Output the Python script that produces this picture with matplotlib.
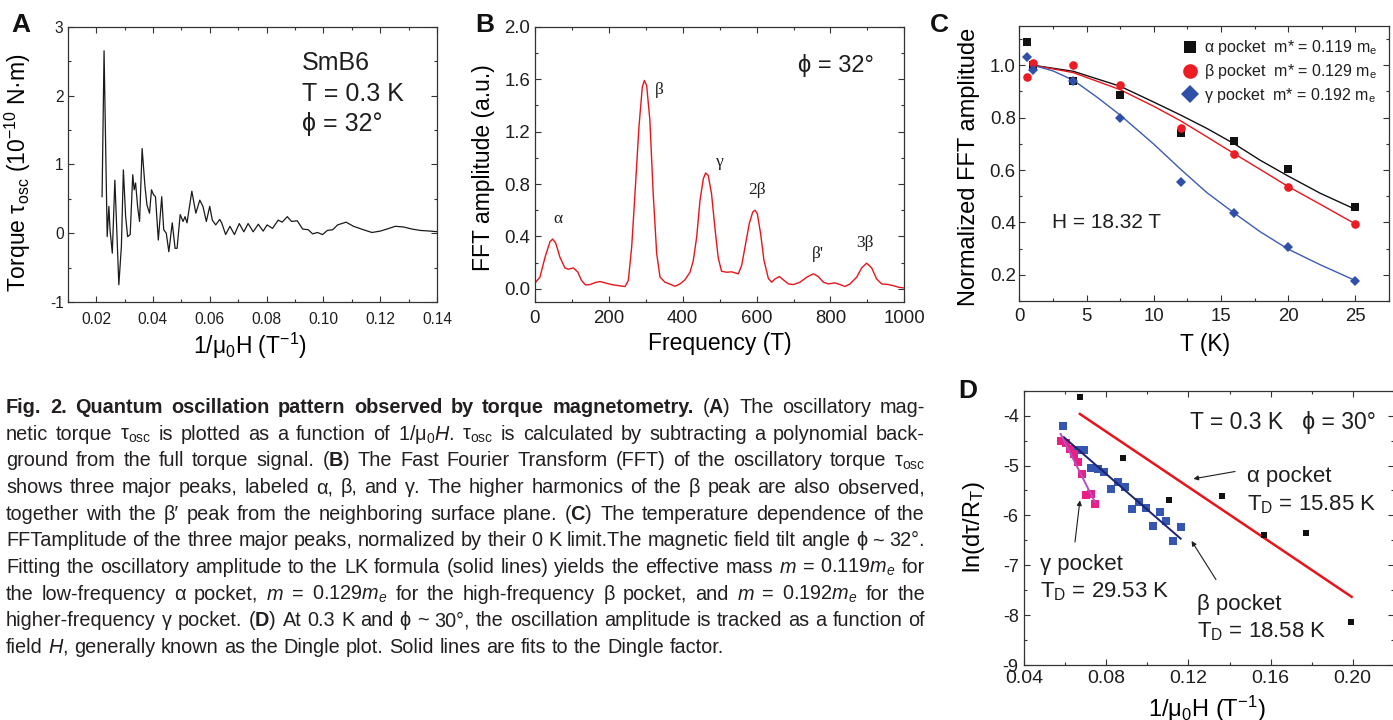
import matplotlib
matplotlib.use('Agg')
import matplotlib.pyplot as plt
from matplotlib import font_manager
from matplotlib.ticker import MultipleLocator, FixedLocator, FormatStrFormatter

# ---------------- data ----------------
# (A) oscillatory torque vs 1/mu0H
A_x = [0.0221, 0.0228, 0.0235, 0.0239, 0.0245, 0.0249, 0.0257, 0.0266, 0.0271, 0.0280,
       0.0289, 0.0296, 0.0304, 0.0311, 0.0320, 0.0329, 0.0334, 0.0339, 0.0346, 0.0353,
       0.0362, 0.0372, 0.0379, 0.0388, 0.0395, 0.0402, 0.0409, 0.0419, 0.0431, 0.0438,
       0.0447, 0.0456, 0.0468, 0.0478, 0.0485, 0.0496, 0.0506, 0.0513, 0.0520, 0.0537,
       0.0551, 0.0565, 0.0576, 0.0588, 0.0600, 0.0609, 0.0621, 0.0635, 0.0642, 0.0656,
       0.0671, 0.0687, 0.0704, 0.0720, 0.0735, 0.0753, 0.0771, 0.0788, 0.0802, 0.0821,
       0.0841, 0.0855, 0.0873, 0.0888, 0.0908, 0.0927, 0.0947, 0.0962, 0.0979, 0.0997,
       0.1014, 0.1033, 0.1050, 0.1080, 0.1106, 0.1141, 0.1171, 0.1200, 0.1224, 0.1253,
       0.1282, 0.1312, 0.1341, 0.1377, 0.1405]
A_torque = [0.53, 2.65, 0.92, -0.05, 0.39, 0.05, -0.29, 0.77, 0.24, -0.75,
            -0.19, 0.92, 0.24, -0.05, -0.02, 0.85, 0.63, 0.73, 0.39, 0.17,
            1.23, 0.68, 0.41, 0.29, 0.63, 0.56, 0.53, -0.10, 0.53, 0.05,
            0.00, -0.27, 0.15, -0.22, -0.22, 0.27, 0.17, 0.24, 0.15, 0.61,
            0.29, 0.48, 0.39, 0.17, 0.39, 0.19, 0.12, 0.20, 0.15, -0.02,
            0.10, -0.02, 0.14, 0.02, 0.14, 0.02, 0.13, 0.03, 0.12, 0.07,
            0.19, 0.16, 0.24, 0.17, 0.18, 0.06, 0.05, -0.01, 0.01, -0.02,
            0.04, 0.05, 0.12, 0.16, 0.10, 0.05, 0.01, 0.03, 0.06, 0.10,
            0.09, 0.06, 0.04, 0.03, 0.02]

# (B) FFT spectrum
B_freq = [0, 13.5, 27, 40.6, 47.8, 56, 67.7, 81, 90, 103.8, 115.5, 126, 137, 149, 162.5,
          176, 189.5, 207.6, 225.6, 243.7, 252.7, 261.8, 270.8, 281.6, 290.6, 296, 302.4,
          311, 320, 329.5, 338.5, 352, 365.5, 379, 392.6, 406, 419.7, 428.7, 437.8, 446.8,
          455.8, 462, 469, 478, 487, 496, 505, 519, 532.5, 550.6, 559.7, 568.7, 580.4,
          589.5, 595.8, 602, 611, 620, 632, 641, 650, 661.7, 672.5, 686, 699.6, 717.6,
          735.7, 753.7, 767, 780.8, 794, 812, 826, 839.5, 853, 871, 884.6, 898, 911.7,
          925, 938.8, 956.8, 970, 984, 997]
B_amp = [0.045, 0.09, 0.24, 0.36, 0.38, 0.35, 0.24, 0.16, 0.15, 0.16, 0.13, 0.064, 0.03,
         0.033, 0.048, 0.056, 0.046, 0.033, 0.025, 0.018, 0.064, 0.32, 0.73, 1.24, 1.54,
         1.59, 1.55, 1.29, 0.73, 0.27, 0.09, 0.051, 0.036, 0.02, 0.038, 0.069, 0.127,
         0.217, 0.395, 0.675, 0.84, 0.884, 0.866, 0.726, 0.47, 0.24, 0.135, 0.127, 0.13,
         0.115, 0.18, 0.32, 0.50, 0.586, 0.60, 0.573, 0.42, 0.217, 0.079, 0.051, 0.076,
         0.094, 0.069, 0.038, 0.033, 0.051, 0.089, 0.115, 0.094, 0.051, 0.038, 0.046,
         0.033, 0.018, 0.038, 0.089, 0.16, 0.196, 0.16, 0.076, 0.038, 0.033, 0.025,
         0.013, 0.008]
B_labels = ['α', 'β', 'γ', '2β', "β'", '3β']
B_label_freq = [63, 337, 501, 600, 767, 894]
B_label_amp = [0.535, 1.52, 0.97, 0.757, 0.268, 0.35]

# (C) normalized FFT amplitude vs T
C_T_alpha = [0.55, 1.0, 4.0, 7.5, 12, 16, 20, 25]
C_alpha = [1.088, 1.0, 0.94, 0.886, 0.743, 0.712, 0.604, 0.46]
C_T = [0.55, 1.0, 4.0, 7.5, 12, 16, 20, 25]
C_beta = [0.956, 1.009, 1.003, 0.926, 0.761, 0.662, 0.534, 0.393]
C_gamma = [1.032, 0.983, 0.94, 0.80, 0.556, 0.435, 0.308, 0.178]
C_fit_T = [1.04, 4.02, 7.5, 9.98, 12, 13.95, 16, 17.9, 20, 22.4, 25]
C_fit_alpha = [1.0, 0.977, 0.92, 0.86, 0.81, 0.759, 0.70, 0.638, 0.577, 0.511, 0.45]
C_fit_beta = [1.0, 0.972, 0.907, 0.844, 0.788, 0.727, 0.662, 0.603, 0.537, 0.469, 0.394]
C_fit_gamma_T = [1.04, 2.53, 4.02, 5.76, 7.5, 9.98, 12, 13.95, 16, 17.9, 20, 22.4, 25]
C_fit_gamma = [1.0, 0.978, 0.943, 0.879, 0.81, 0.70, 0.603, 0.514, 0.435, 0.365, 0.298,
               0.238, 0.178]
C_legend = ['α pocket  m* = 0.119 m$_e$', 'β pocket  m* = 0.129 m$_e$',
            'γ pocket  m* = 0.192 m$_e$']

# (D) Dingle plot
D_x_alpha = [0.0671, 0.0881, 0.1105, 0.1365, 0.1570, 0.1774, 0.1992]
D_alpha = [-3.62, -4.853, -5.70, -5.62, -6.40, -6.353, -8.14]
D_x_beta = [0.0588, 0.0658, 0.0691, 0.0725, 0.0757, 0.0790, 0.0822, 0.0858, 0.0892,
            0.0925, 0.0957, 0.0991, 0.1025, 0.1060, 0.1092, 0.1126, 0.1162]
D_beta = [-4.213, -4.68, -4.68, -5.053, -5.08, -5.14, -5.467, -5.34, -5.433, -5.867,
          -5.733, -5.847, -6.207, -5.933, -6.113, -6.513, -6.233]
D_x_gamma = [0.0577, 0.0601, 0.0623, 0.0642, 0.0660, 0.0681, 0.0701, 0.0727, 0.0744]
D_gamma = [-4.513, -4.553, -4.667, -4.767, -4.92, -5.18, -5.587, -5.567, -5.78]
D_fit_alpha_x = [0.0671, 0.1995]
D_fit_alpha = [-3.967, -7.633]
D_fit_beta_x = [0.0593, 0.1162]
D_fit_beta = [-4.433, -6.467]
D_fit_gamma_x = [0.0577, 0.0744]
D_fit_gamma = [-4.367, -5.733]

CAPTION = [
    [("Fig. 2. Quantum oscillation pattern observed by torque magnetometry.", "bold"),
     (r"($\mathbf{A}$) The oscillatory mag-", "normal")],
    [(r"netic torque $\tau_{osc}$ is plotted as a function of 1/$\mu_0\mathit{H}$. "
      r"$\tau_{osc}$ is calculated by subtracting a polynomial back-", "normal")],
    [(r"ground from the full torque signal. ($\mathbf{B}$) The Fast Fourier Transform "
      r"(FFT) of the oscillatory torque $\tau_{osc}$", "normal")],
    [("shows three major peaks, labeled α, β, and γ. The higher harmonics of the β peak "
      "are also observed,", "normal")],
    [(r"together with the β′ peak from the neighboring surface plane. ($\mathbf{C}$) "
      r"The temperature dependence of the", "normal")],
    [("FFTamplitude of the three major peaks, normalized by their 0 K limit.The magnetic "
      "field tilt angle ϕ ~ 32°.", "normal")],
    [(r"Fitting the oscillatory amplitude to the LK formula (solid lines) yields the "
      r"effective mass $\mathit{m}$ = 0.119$\mathit{m_e}$ for", "normal")],
    [(r"the low-frequency α pocket, $\mathit{m}$ = 0.129$\mathit{m_e}$ for the "
      r"high-frequency β pocket, and $\mathit{m}$ = 0.192$\mathit{m_e}$ for the", "normal")],
    [(r"higher-frequency γ pocket. ($\mathbf{D}$) At 0.3 K and ϕ ~ 30°, the oscillation "
      r"amplitude is tracked as a function of", "normal")],
    [(r"field $\mathit{H}$, generally known as the Dingle plot. Solid lines are fits to "
      r"the Dingle factor.", "normal")],
]

# ---------------- fonts ----------------
names = {f.name for f in font_manager.fontManager.ttflist}
SANS = 'Liberation Sans' if 'Liberation Sans' in names else 'DejaVu Sans'
SERIF = 'Liberation Serif' if 'Liberation Serif' in names else 'DejaVu Serif'
NARROW = 'Liberation Sans Narrow' if 'Liberation Sans Narrow' in names else None

plt.rcParams.update({
    'font.family': [SANS, 'DejaVu Sans'],
    'mathtext.fontset': 'custom',
    'mathtext.rm': SANS,
    'mathtext.sf': SANS,
    'mathtext.it': SANS + ':italic',
    'mathtext.bf': SANS + ':bold',
    'mathtext.default': 'regular',
    'axes.unicode_minus': False,
    'axes.linewidth': 0.9,
    'axes.edgecolor': '#333333',
    'text.color': '#1e1e1e',
})

INK = '#1e1e1e'
W, H = 1393, 720
fig = plt.figure(figsize=(W / 100, H / 100), dpi=100)


def axes_px(left, top, right, bottom):
    return fig.add_axes([left / W, 1 - bottom / H, (right - left) / W, (bottom - top) / H])


def style(ax, size, xpad, ypad, family=None):
    ax.tick_params(which='both', direction='in', top=True, right=True, width=0.8,
                   colors='#333333', labelcolor=INK, labelsize=size)
    ax.tick_params(which='major', length=4.5)
    ax.tick_params(which='minor', length=2.5)
    ax.tick_params(axis='x', pad=xpad)
    ax.tick_params(axis='y', pad=ypad)
    if family:
        ax.tick_params(labelfontfamily=family)


axA = axes_px(67.7, 26.7, 437, 302)
axB = axes_px(535, 26.7, 904.3, 302)
axC = axes_px(1019.3, 26, 1389, 301)
axD = axes_px(1024.3, 390.7, 1393.7, 665)

# ---------------- panel A ----------------
axA.plot(A_x, A_torque, color='#1a1a1a', lw=0.9)
axA.set_xlim(0.01, 0.14)
axA.set_ylim(-1, 3)
axA.xaxis.set_major_locator(FixedLocator([0.02, 0.04, 0.06, 0.08, 0.10, 0.12, 0.14]))
axA.xaxis.set_minor_locator(MultipleLocator(0.01))
axA.xaxis.set_major_formatter(FormatStrFormatter('%.2f'))
axA.yaxis.set_major_locator(MultipleLocator(1))
axA.yaxis.set_minor_locator(MultipleLocator(0.5))
axA.yaxis.set_major_formatter(FormatStrFormatter('%d'))
if NARROW:
    style(axA, 11.7, 7.5, 3, NARROW)
else:
    style(axA, 11.2, 7.5, 3)
axA.set_xlabel('1/$\\mu_0$H (T$^{-1}$)', fontsize=16.5)
axA.set_ylabel('Torque $\\tau_{osc}$ (10$^{-10}$ N·m)', fontsize=16.5)
axA.xaxis.set_label_coords(0.494, -0.105)
axA.yaxis.set_label_coords(-0.093, 0.469)
for txt, yy in zip(['SmB6', 'T = 0.3 K', 'ϕ = 32°'], [0.843, 0.731, 0.621]):
    axA.text(0.634, yy, txt, transform=axA.transAxes, fontsize=18, va='baseline')

# ---------------- panel B ----------------
axB.plot(B_freq, B_amp, color='#e8141c', lw=1.0)
axB.set_xlim(0, 1000)
axB.set_ylim(-0.1, 2.0)
axB.xaxis.set_major_locator(MultipleLocator(200))
axB.xaxis.set_minor_locator(MultipleLocator(100))
axB.yaxis.set_major_locator(MultipleLocator(0.4))
axB.yaxis.set_minor_locator(MultipleLocator(0.2))
axB.yaxis.set_major_formatter(FormatStrFormatter('%.1f'))
style(axB, 13.4, 5.5, 3.5)
axB.set_xlabel('Frequency (T)', fontsize=16.5)
axB.set_ylabel('FFT amplitude (a.u.)', fontsize=16.5)
axB.xaxis.set_label_coords(0.501, -0.11)
axB.yaxis.set_label_coords(-0.108, 0.487)
for lab, f, a in zip(B_labels, B_label_freq, B_label_amp):
    axB.text(f, a, lab, fontsize=12.5, family=[SERIF, 'DejaVu Serif'],
             ha='center', va='center')
axB.text(0.712, 0.8365, 'ϕ = 32°', transform=axB.transAxes, fontsize=17, va='baseline')

# ---------------- panel C ----------------
axC.plot(C_fit_T, C_fit_alpha, color='#111111', lw=1.0, zorder=2)
axC.plot(C_fit_T, C_fit_beta, color='#e8141c', lw=1.0, zorder=2)
axC.plot(C_fit_gamma_T, C_fit_gamma, color='#3b5bb5', lw=1.0, zorder=2)
axC.plot(C_T_alpha, C_alpha, 's', color='#111111', ms=5.2, mew=0, label=C_legend[0], zorder=3)
axC.plot(C_T, C_beta, 'o', color='#ec1c24', ms=6.2, mew=0, label=C_legend[1], zorder=4)
axC.plot(C_T, C_gamma, 'D', color='#2f4fa8', ms=5.2, mew=0, label=C_legend[2], zorder=5)
axC.set_xlim(0, 27.5)
axC.set_ylim(0.1, 1.15)
axC.xaxis.set_major_locator(MultipleLocator(5))
axC.xaxis.set_minor_locator(MultipleLocator(2.5))
axC.yaxis.set_major_locator(MultipleLocator(0.2))
axC.yaxis.set_minor_locator(MultipleLocator(0.1))
axC.yaxis.set_major_formatter(FormatStrFormatter('%.1f'))
style(axC, 13.4, 5, 2.5)
axC.set_xlabel('T (K)', fontsize=16.5)
axC.set_ylabel('Normalized FFT amplitude', fontsize=17)
axC.xaxis.set_label_coords(0.502, -0.115)
axC.yaxis.set_label_coords(-0.106, 0.488)
axC.legend(loc='upper left', bbox_to_anchor=(0.436, 0.955), frameon=False, fontsize=11.5,
           markerscale=1.7, handlelength=1.2, handletextpad=0.3, labelspacing=0.3,
           borderpad=0, borderaxespad=0)
axC.text(0.0876, 0.264, 'H = 18.32 T', transform=axC.transAxes, fontsize=15, va='baseline')

# ---------------- panel D ----------------
axD.plot(D_fit_alpha_x, D_fit_alpha, color='#e8141c', lw=1.8, zorder=2)
axD.plot(D_fit_beta_x, D_fit_beta, color='#1c2270', lw=1.4, zorder=4)
axD.plot(D_fit_gamma_x, D_fit_gamma, color='#b350c0', lw=1.4, zorder=4)
axD.plot(D_x_alpha, D_alpha, 's', color='#111111', ms=4.6, mew=0, zorder=3)
axD.plot(D_x_beta, D_beta, 's', color='#3556b0', ms=5.2, mew=0, zorder=3)
axD.plot(D_x_gamma, D_gamma, 's', color='#ea1e84', ms=5.2, mew=0, zorder=3)
axD.set_xlim(0.04, 0.22)
axD.set_ylim(-9, -3.5)
axD.xaxis.set_major_locator(MultipleLocator(0.04))
axD.xaxis.set_minor_locator(MultipleLocator(0.02))
axD.xaxis.set_major_formatter(FormatStrFormatter('%.2f'))
axD.yaxis.set_major_locator(MultipleLocator(1))
axD.yaxis.set_minor_locator(MultipleLocator(0.5))
axD.yaxis.set_major_formatter(FormatStrFormatter('%d'))
style(axD, 13, 3.5, 4)
axD.tick_params(axis='x', labelsize=14)
axD.set_xlabel('1/$\\mu_0$H (T$^{-1}$)', fontsize=17)
axD.set_ylabel('ln(d$\\tau$/R$_T$)', fontsize=17)
axD.xaxis.set_label_coords(0.494, -0.104)
axD.yaxis.set_label_coords(-0.102, 0.504)
axD.text(0.1207, -4.27, 'T = 0.3 K   ϕ = 30°', fontsize=16.5, va='baseline')
axD.text(0.1484, -5.33, 'α pocket', fontsize=16, va='baseline')
axD.text(0.1484, -5.90, 'T$_D$ = 15.85 K', fontsize=16, va='baseline')
axD.text(0.0477, -7.09, 'γ pocket', fontsize=16, va='baseline')
axD.text(0.0477, -7.65, 'T$_D$ = 29.53 K', fontsize=16, va='baseline')
axD.text(0.1240, -7.90, 'β pocket', fontsize=16, va='baseline')
axD.text(0.1240, -8.45, 'T$_D$ = 18.58 K', fontsize=16, va='baseline')
arrow = dict(arrowstyle='-|>', color='#1e1e1e', lw=0.8, mutation_scale=7, shrinkA=0, shrinkB=0)
axD.annotate('', xy=(0.1224, -5.267), xytext=(0.1427, -5.12), arrowprops=arrow)
axD.annotate('', xy=(0.0671, -5.70), xytext=(0.0647, -6.533), arrowprops=arrow)
axD.annotate('', xy=(0.1215, -6.513), xytext=(0.1334, -7.287), arrowprops=arrow)

# ---------------- panel letters ----------------
letter_family = [NARROW, SANS] if NARROW else [SANS]
for lab, x, y in [('A', 11, 32.3), ('B', 475, 32.3), ('C', 930, 32.3), ('D', 958, 398.3)]:
    fig.text(x / W, 1 - y / H, lab, fontsize=19, fontweight='bold', family=letter_family,
             va='baseline', color='#111111')

# ---------------- justified caption ----------------
renderer = fig.canvas.get_renderer()
CAP_SIZE = 14.3
CAP_X0, CAP_X1 = 6, 925
CAP_BASE, CAP_STEP = 413.3, 26.6


def caption_words(chunks, y, size):
    arts = []
    for text, weight in chunks:
        for word in text.split(' '):
            if word:
                arts.append(fig.text(0, y, word, fontsize=size, fontweight=weight,
                                     va='baseline', ha='left', color='#231f20'))
    return arts


for i, chunks in enumerate(CAPTION):
    y = 1 - (CAP_BASE + i * CAP_STEP) / H
    size = CAP_SIZE
    while True:
        arts = caption_words(chunks, y, size)
        widths = [a.get_window_extent(renderer).width for a in arts]
        space_px = 0.278 * size * 100 / 72
        if sum(widths) + 0.6 * space_px * (len(arts) - 1) <= CAP_X1 - CAP_X0 or size < 10:
            break
        for a in arts:
            a.remove()
        size -= 0.2
    if i < len(CAPTION) - 1:
        gap = (CAP_X1 - CAP_X0 - sum(widths)) / (len(arts) - 1)
    else:
        gap = space_px
    x = CAP_X0
    for a, w in zip(arts, widths):
        a.set_x(x / W)
        x += w + gap

fig.savefig('out.png', dpi=100)
